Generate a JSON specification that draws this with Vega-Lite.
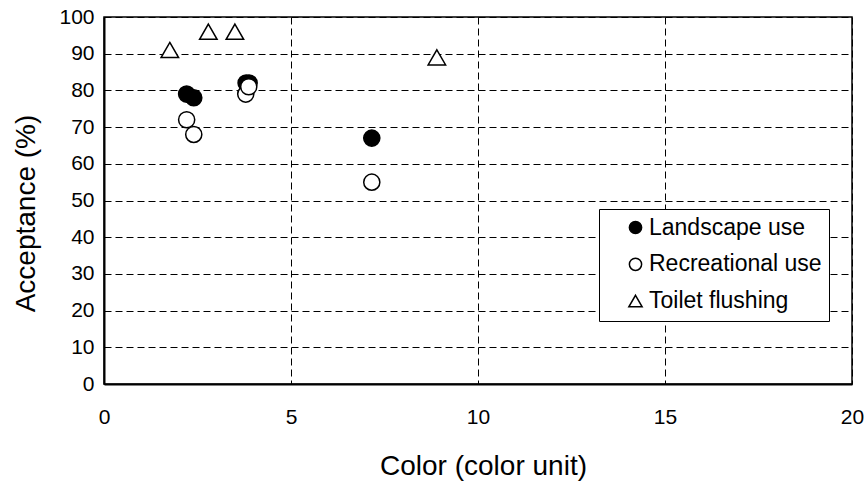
{
  "$schema": "https://vega.github.io/schema/vega-lite/v6.json",
  "width": 748,
  "height": 367,
  "autosize": {"type": "none"},
  "padding": {"left": 104, "top": 17, "right": 15, "bottom": 103},
  "background": "white",
  "config": {
    "font": "Liberation Sans",
    "view": {"stroke": "black", "strokeWidth": 1.5},
    "axis": {
      "grid": true,
      "gridColor": "black",
      "gridDash": [7, 4],
      "gridWidth": 1,
      "gridOpacity": 1,
      "ticks": false,
      "labelFlush": false,
      "domainColor": "black",
      "domainWidth": 2,
      "labelColor": "black",
      "labelFontSize": 21,
      "labelFont": "Liberation Sans",
      "titleFont": "Liberation Sans",
      "titleFontSize": 28,
      "titleFontWeight": "normal",
      "titleColor": "black"
    },
    "legend": {
      "strokeColor": "black",
      "fillColor": "white",
      "padding": 7,
      "labelFont": "Liberation Sans",
      "labelFontSize": 23,
      "labelColor": "black",
      "labelOffset": 2,
      "labelLimit": 400,
      "symbolSize": 150,
      "symbolStrokeWidth": 1.5,
      "symbolOffset": 18,
      "rowPadding": 12.8
    }
  },
  "data": {
    "values": [
      {"color": 2.21, "acceptance": 79, "series": "Landscape use"},
      {"color": 2.4, "acceptance": 78, "series": "Landscape use"},
      {"color": 3.8, "acceptance": 82, "series": "Landscape use"},
      {"color": 3.88, "acceptance": 82, "series": "Landscape use"},
      {"color": 7.16, "acceptance": 67, "series": "Landscape use"},
      {"color": 2.21, "acceptance": 72, "series": "Recreational use"},
      {"color": 2.4, "acceptance": 68, "series": "Recreational use"},
      {"color": 3.79, "acceptance": 79, "series": "Recreational use"},
      {"color": 3.87, "acceptance": 81, "series": "Recreational use"},
      {"color": 7.16, "acceptance": 55, "series": "Recreational use"},
      {"color": 1.76, "acceptance": 91, "series": "Toilet flushing"},
      {"color": 2.79, "acceptance": 96, "series": "Toilet flushing"},
      {"color": 3.5, "acceptance": 96, "series": "Toilet flushing"},
      {"color": 8.9, "acceptance": 89, "series": "Toilet flushing"}
    ]
  },
  "mark": {"type": "point", "filled": true, "strokeWidth": 1.5, "opacity": 1, "size": 260},
  "encoding": {
    "x": {
      "field": "color",
      "type": "quantitative",
      "scale": {"domain": [0, 20], "nice": false, "zero": false},
      "axis": {"values": [0, 5, 10, 15, 20], "title": "Color (color unit)", "labelPadding": 22, "titleX": 379, "titleY": 82, "titleBaseline": "middle"}
    },
    "y": {
      "field": "acceptance",
      "type": "quantitative",
      "scale": {"domain": [0, 100], "nice": false, "zero": false},
      "axis": {"values": [0, 10, 20, 30, 40, 50, 60, 70, 80, 90, 100], "title": "Acceptance (%)", "labelPadding": 10, "titleX": -78, "titleY": 196, "titleBaseline": "middle", "titleAngle": -90}
    },
    "fill": {
      "field": "series",
      "type": "nominal",
      "scale": {"domain": ["Landscape use", "Recreational use", "Toilet flushing"], "range": ["black", "white", "white"]},
      "legend": {"title": null, "orient": "none", "legendX": 495, "legendY": 192, "labelExpr": "datum.label + '\u00a0\u00a0\u00a0'"}
    },
    "stroke": {
      "field": "series",
      "type": "nominal",
      "scale": {"domain": ["Landscape use", "Recreational use", "Toilet flushing"], "range": ["black", "black", "black"]},
      "legend": {"title": null, "orient": "none", "legendX": 495, "legendY": 192, "labelExpr": "datum.label + '\u00a0\u00a0\u00a0'"}
    },
    "shape": {
      "field": "series",
      "type": "nominal",
      "scale": {"domain": ["Landscape use", "Recreational use", "Toilet flushing"], "range": ["circle", "circle", "M0,-0.94L1.085,0.94L-1.085,0.94Z"]},
      "legend": {"title": null, "orient": "none", "legendX": 495, "legendY": 192, "labelExpr": "datum.label + '\u00a0\u00a0\u00a0'"}
    }
  }
}
